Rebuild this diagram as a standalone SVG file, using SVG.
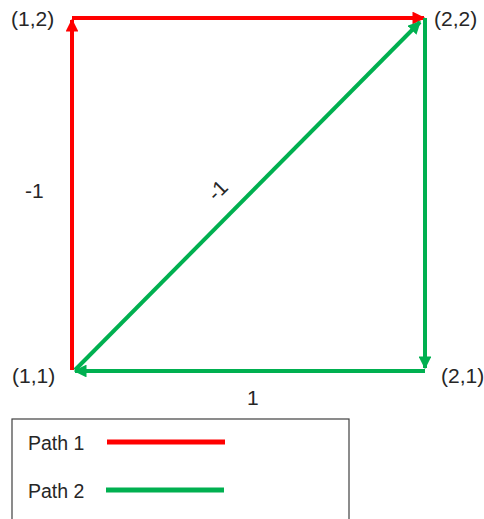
<svg xmlns="http://www.w3.org/2000/svg" width="484" height="519" viewBox="0 0 484 519">
<style>
text{font-family:"Liberation Sans",Arial,sans-serif;font-size:21px;fill:#262626}
.lg{font-size:19.5px}
.r{stroke:#FF0000;stroke-width:4;fill:none}
.g{stroke:#00B050;stroke-width:4;fill:none}
</style>
<defs>
<marker id="ar" viewBox="0 0 10 10" refX="9" refY="5" markerWidth="3.2" markerHeight="3.2" orient="auto" markerUnits="strokeWidth"><path d="M0,0 L10,5 L0,10 z" fill="#FF0000"/></marker>
<marker id="ag" viewBox="0 0 10 10" refX="9" refY="5" markerWidth="3.2" markerHeight="3.2" orient="auto" markerUnits="strokeWidth"><path d="M0,0 L10,5 L0,10 z" fill="#00B050"/></marker>
</defs>
<g id="connectors">
<line class="r" x1="72" y1="370" x2="72" y2="20" marker-end="url(#ar)"/>
<line class="r" x1="72" y1="18" x2="424" y2="18" marker-end="url(#ar)"/>
<line class="g" x1="425" y1="18" x2="425" y2="368" marker-end="url(#ag)"/>
<line class="g" x1="425" y1="371" x2="75" y2="371" marker-end="url(#ag)"/>
<line class="g" x1="75" y1="370" x2="420" y2="22" marker-end="url(#ag)"/>
</g>
<g id="labels">
<text x="11" y="26">(1,2)</text>
<text x="434" y="26">(2,2)</text>
<text x="12" y="383">(1,1)</text>
<text x="441" y="383">(2,1)</text>
<text x="25" y="198">-1</text>
<text x="247" y="405">1</text>
<text transform="translate(216,202) rotate(-45)">-1</text>
</g>
<g id="legend">
<rect x="12" y="419" width="337" height="110" fill="none" stroke="#404040" stroke-width="1.2"/>
<text class="lg" x="28" y="450">Path 1</text>
<line x1="107" y1="442" x2="225" y2="442" stroke="#FF0000" stroke-width="5"/>
<text class="lg" x="28" y="498">Path 2</text>
<line x1="106" y1="490" x2="224" y2="490" stroke="#00B050" stroke-width="5"/>
</g>
</svg>
